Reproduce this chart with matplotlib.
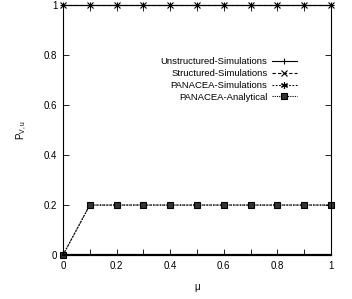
import matplotlib

matplotlib.use('Agg')
import matplotlib.pyplot as plt
import numpy as np

plt.rcParams['font.family'] = ['Liberation Sans', 'DejaVu Sans']

mu = [0.0, 0.1, 0.2, 0.3, 0.4, 0.5, 0.6, 0.7, 0.8, 0.9, 1.0]
unstructured = [1, 1, 1, 1, 1, 1, 1, 1, 1, 1, 1]
structured = [1, 1, 1, 1, 1, 1, 1, 1, 1, 1, 1]
panacea_sim = [0, 0.2, 0.2, 0.2, 0.2, 0.2, 0.2, 0.2, 0.2, 0.2, 0.2]
panacea_ana = [0, 0.2, 0.2, 0.2, 0.2, 0.2, 0.2, 0.2, 0.2, 0.2, 0.2]

fig = plt.figure(figsize=(3.52, 2.99), dpi=100)
ax = fig.add_axes([0.179, 0.147, 0.761, 0.836])

ax.plot(mu, unstructured, color='black', lw=0.8, marker='+', ms=5, mew=0.8,
        label='Unstructured-Simulations', clip_on=False)
ax.plot(mu, structured, color='black', lw=0.8, ls=(0, (3, 2)), marker='x', ms=4, mew=0.8,
        label='Structured-Simulations', clip_on=False)
ax.plot(mu, panacea_sim, color='black', lw=0.8, ls=(0, (1.5, 1.5)), marker=(6, 2, 0), ms=5, mew=0.8,
        label='PANACEA-Simulations', clip_on=False)
ax.plot(mu, panacea_ana, color='black', lw=0.8, ls=(0, (1, 1)), marker='s', ms=4, mfc='#333333',
        mew=0.8, label='PANACEA-Analytical', clip_on=False)

ax.set_xlim(0, 1)
ax.set_ylim(0, 1)
ax.set_xticks(np.arange(0, 1.01, 0.2))
ax.set_xticks(np.arange(0, 1.01, 0.1), minor=True)
ax.set_xticklabels(['0', '0.2', '0.4', '0.6', '0.8', '1'])
ax.set_yticks(np.arange(0, 1.01, 0.2))
ax.set_yticklabels(['0', '0.2', '0.4', '0.6', '0.8', '1'])
ax.tick_params(axis='both', which='both', direction='in', top=True, right=True,
               labelsize=7, length=4, width=0.6, pad=4)
ax.tick_params(axis='x', which='minor', length=4)
for s in ax.spines.values():
    s.set_linewidth(0.8)
ax.spines['bottom'].set_linewidth(1.6)

ax.set_xlabel('μ', fontsize=7, labelpad=8)
ax.set_ylabel('P$_{\\mathregular{V,u}}$', fontsize=7, labelpad=11)

leg = ax.legend(loc='upper right', bbox_to_anchor=(0.89, 0.81), fontsize=6.8, frameon=False,
                markerfirst=False, handlelength=2.6, labelspacing=0.3, borderpad=0,
                handletextpad=0.5)
for t in leg.get_texts():
    t.set_ha('right')

fig.savefig('out.png', dpi=100)
